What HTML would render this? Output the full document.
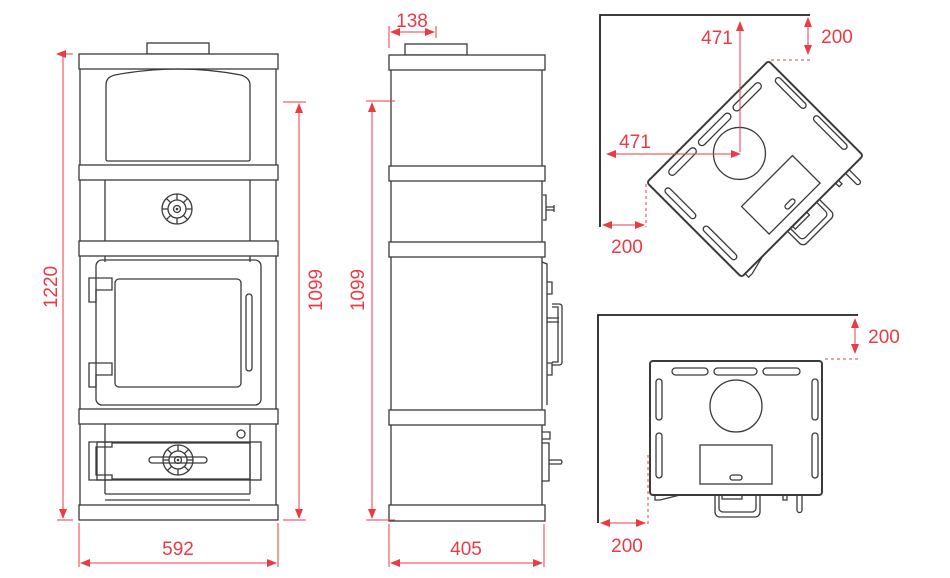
<!DOCTYPE html>
<html><head><meta charset="utf-8"><style>
html,body{margin:0;padding:0;background:#fff;}
svg{display:block;}
.k{fill:none;stroke:#3a3a3a;stroke-width:1.3;}
.w{fill:#fff;stroke:#3a3a3a;stroke-width:1.3;}
.r{stroke:#ec3a44;stroke-width:1;fill:none;}
.rd{stroke:#ec3a44;stroke-width:1;fill:none;stroke-dasharray:3 3;}
.t{font-family:"Liberation Sans",sans-serif;font-size:19px;fill:#ec3a44;}
.wall{stroke:#222;stroke-width:1.8;fill:none;}
</style></head><body>
<svg width="950" height="578" viewBox="0 0 950 578" xmlns="http://www.w3.org/2000/svg">
<defs>
<marker id="a" markerWidth="10" markerHeight="8" refX="9" refY="4" orient="auto-start-reverse" markerUnits="userSpaceOnUse">
<path d="M0,0 L10,4 L0,8 Z" fill="#ec3a44"/></marker>
<g id="dial">
<circle r="15" class="k"/><circle r="9" class="k"/><circle r="3.5" class="k"/><circle r="1.3" fill="#3a3a3a"/>
<path class="k" d="M0,-15V-9M0,15V9M-15,0H-9M15,0H9M-10.6,-10.6L-6.4,-6.4M10.6,10.6L6.4,6.4M-10.6,10.6L-6.4,6.4M10.6,-10.6L6.4,-6.4"/>
</g>
<g id="plan">
<rect x="-86" y="-67" width="172" height="134" rx="3" class="w" style="stroke-width:2"/>
<rect x="-64" y="-60" width="36" height="7" rx="3.5" class="k"/>
<rect x="-22" y="-60" width="43" height="7" rx="3.5" class="k"/>
<rect x="27" y="-60" width="37" height="7" rx="3.5" class="k"/>
<rect x="-80" y="-49" width="6" height="41" rx="3" class="k"/>
<rect x="-80" y="5" width="6" height="45" rx="3" class="k"/>
<rect x="76" y="-49" width="6" height="41" rx="3" class="k"/>
<rect x="76" y="5" width="6" height="45" rx="3" class="k"/>
<circle cx="0" cy="-22" r="26" class="k"/>
<rect x="-36" y="17" width="72" height="39" class="k"/>
<rect x="-6" y="47" width="12" height="5" rx="2.5" class="k"/>
<path class="k" d="M-21,68V84a5,5 0 0 0 5,5H19a5,5 0 0 0 5,-5V68M-17,68V80a4,4 0 0 0 4,4H16a4,4 0 0 0 4,-4V68"/>
<path class="k" d="M-14,67v4h20v-4M47,67v5h4v-5M61,67v15a2.5,2.5 0 0 0 5,0v-15M-81,67v5h5l20,-5"/>
</g>
</defs>

<!-- FRONT VIEW -->
<rect x="147" y="43" width="62" height="11" class="w"/>
<rect x="79" y="54" width="199" height="15" class="w"/>
<path class="k" d="M80,69V505M276,69V505"/>
<path class="k" d="M106,159V85q0,-8 9,-10q63,-12 126,0q9,3 9,10V159q0,2 -2,2H108q-2,0 -2,-2Z"/>
<rect x="79" y="165" width="199" height="15" class="w"/>
<path class="k" d="M105,180V241M250,180V241"/>
<use href="#dial" x="177" y="209"/>
<rect x="79" y="241" width="199" height="15" class="w"/>
<path class="k" d="M105,256V262M250,256V262"/>
<rect x="96" y="260" width="165" height="145" rx="6" class="k"/>
<rect x="115" y="279" width="126" height="108" rx="4" class="k"/>
<rect x="246" y="294" width="6" height="77" rx="3" class="k"/>
<path class="k" d="M89,278h23v12h-16v12h-7ZM89,363h23v12h-16v12h-7Z"/>
<rect x="79" y="409" width="199" height="15" class="w"/>
<path class="k" d="M105,424V494M250,424V494M105,494H250M105,500H250"/>
<circle cx="241" cy="434" r="4" class="k"/>
<rect x="97" y="442" width="164" height="38" class="k"/>
<path class="k" d="M112,443H250V479H112M89,442h23v5h-16v28h16v5h-23Z"/>
<rect x="149" y="457" width="58" height="6" rx="3" class="w"/>
<use href="#dial" x="178" y="460"/>
<rect x="79" y="505" width="199" height="15" class="w"/>

<!-- front dims -->
<path class="r" d="M57,54H73M57,520H73M63,56V518" marker-start="url(#a)" marker-end="url(#a)"/>
<text class="t" transform="translate(57,287) rotate(-90)" text-anchor="middle">1220</text>
<path class="r" d="M283,102H306M283,520H306"/>
<path class="r" d="M299,104V518" marker-start="url(#a)" marker-end="url(#a)"/>
<text class="t" transform="translate(322,290) rotate(-90)" text-anchor="middle">1099</text>
<path class="r" d="M79,523V567M278,523V567"/>
<path class="r" d="M81,563H276" marker-start="url(#a)" marker-end="url(#a)"/>
<text class="t" x="178" y="555" text-anchor="middle">592</text>

<!-- SIDE VIEW -->
<rect x="405" y="44" width="62" height="11" class="w"/>
<rect x="389" y="55" width="156" height="15" class="w"/>
<path class="k" d="M391,70V505M542,70V505"/>
<rect x="389" y="166" width="156" height="15" class="w"/>
<rect x="389" y="242" width="156" height="15" class="w"/>
<rect x="389" y="410" width="156" height="15" class="w"/>
<rect x="389" y="505" width="156" height="16" class="w"/>
<path class="k" d="M543,195h3v25h-3M546,207h8v3h-8M554,205v7"/>
<path class="k" d="M542,262l5,2V405M547,282h5v12h-5M547,363h5v12h-5M547,318h12M547,322h12M552,304h7q3,0 3,3v55q0,3 -3,3h-7M552,307h6v55h-6"/>
<path class="k" d="M542,432h8v7h-8M542,443h7v38h-7M549,460h12q2,2 0,4h-12"/>
<path class="r" d="M366,101H395M366,520H395"/>
<path class="r" d="M372,103V518" marker-start="url(#a)" marker-end="url(#a)"/>
<text class="t" transform="translate(364,290) rotate(-90)" text-anchor="middle">1099</text>
<path class="r" d="M389,26V48M436,26V38"/>
<path class="r" d="M391,32H434" marker-start="url(#a)" marker-end="url(#a)"/>
<text class="t" x="412" y="27" text-anchor="middle">138</text>
<path class="r" d="M389,524V567M544,524V567"/>
<path class="r" d="M391,563H542" marker-start="url(#a)" marker-end="url(#a)"/>
<text class="t" x="466" y="555" text-anchor="middle">405</text>

<!-- CORNER PLAN -->
<path class="wall" d="M600,227V15H810"/>
<use href="#plan" transform="translate(755,169) rotate(-45)"/>
<path class="r" d="M740,152V22" marker-end="url(#a)"/>
<path class="r" d="M740,154H607" marker-start="url(#a)" marker-end="url(#a)"/>
<text class="t" x="717" y="44" text-anchor="middle">471</text>
<text class="t" x="635" y="148" text-anchor="middle">471</text>
<path class="r" d="M808,18V54" marker-start="url(#a)" marker-end="url(#a)"/>
<path class="rd" d="M771,60H810"/>
<text class="t" x="837" y="43" text-anchor="middle">200</text>
<path class="r" d="M603,225H644" marker-start="url(#a)" marker-end="url(#a)"/>
<path class="rd" d="M646,184V227"/>
<text class="t" x="627" y="253" text-anchor="middle">200</text>

<!-- WALL PLAN -->
<path class="wall" d="M598,523V315H858"/>
<use href="#plan" transform="translate(736,428)"/>
<path class="r" d="M855,319V353" marker-start="url(#a)" marker-end="url(#a)"/>
<path class="rd" d="M825,359H858"/>
<text class="t" x="884" y="343" text-anchor="middle">200</text>
<path class="r" d="M601,523H645" marker-start="url(#a)" marker-end="url(#a)"/>
<path class="rd" d="M648,455V524"/>
<text class="t" x="627" y="552" text-anchor="middle">200</text>
</svg>
</body></html>
